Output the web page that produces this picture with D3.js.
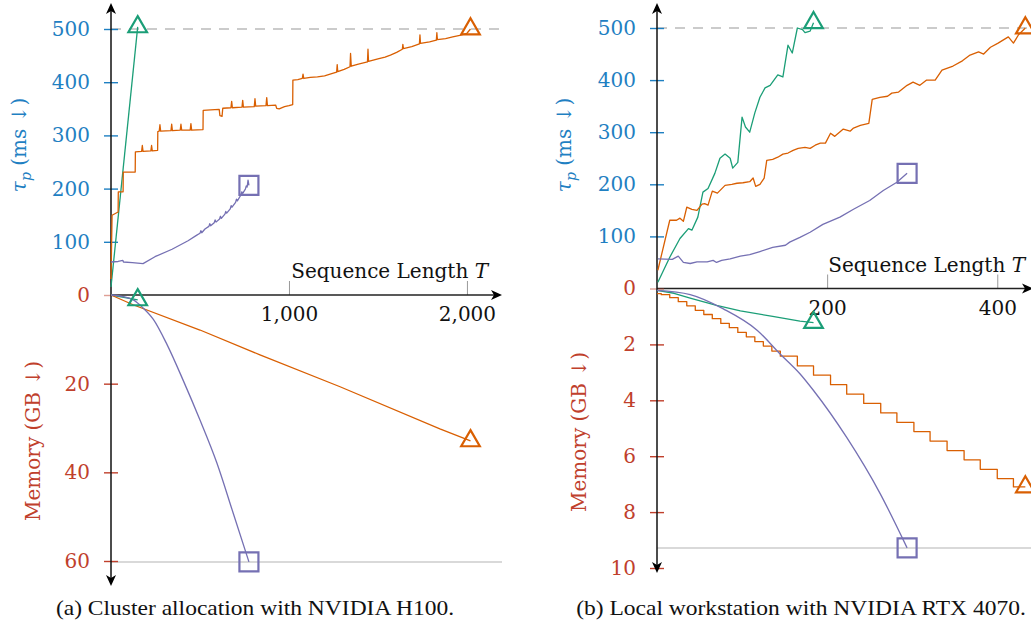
<!DOCTYPE html>
<html lang="en">
<head>
<meta charset="UTF-8">
<script src="https://d3js.org/d3.v7.min.js"></script>
<style>
  body { margin: 0; background: #fff; }
  svg text { font-family: "DejaVu Serif", serif; }
  svg text.caption { font-family: "Liberation Serif", "Times New Roman", serif; font-size: 21px; fill: #111; }
</style>
</head>
<body>
<svg id="chart" width="1031" height="627"></svg>
<script>
// every series is [sequence length T, value]

// (a) cluster, H100 -- tau_p in ms
const h100TauGreen = [[0, 15], [150, 504]];
const h100TauOrange = [
  [0, 30], [6, 150], [40, 156], [41, 194], [68, 194], [69, 231], [136, 231], [137, 269],
  [172, 270], [176, 281], [180, 270], [224, 271], [228, 281], [232, 271], [262, 272], [263, 307],
  [271, 308], [275, 320], [279, 308], [337, 309], [341, 321], [345, 309], [389, 310], [393, 321],
  [397, 310], [445, 310], [449, 322], [453, 310], [517, 311], [518, 347], [560, 348], [608, 349],
  [612, 337], [624, 336], [628, 351], [674, 352], [678, 364], [682, 352], [736, 353], [740, 366],
  [744, 353], [805, 354], [809, 369], [813, 355], [871, 356], [875, 371], [879, 356], [925, 357],
  [931, 351], [945, 350], [975, 354], [1000, 356], [1021, 358], [1022, 404], [1050, 405], [1075, 407],
  [1079, 415], [1083, 407], [1120, 409], [1160, 410], [1200, 412], [1240, 416], [1268, 419], [1271, 433],
  [1274, 420], [1310, 424], [1343, 429], [1346, 454], [1350, 430], [1390, 434], [1441, 438], [1444, 462],
  [1447, 439], [1500, 444], [1540, 447], [1570, 451], [1605, 456], [1637, 462], [1640, 471], [1643, 463],
  [1690, 467], [1733, 472], [1736, 489], [1739, 473], [1790, 476], [1828, 479], [1831, 493], [1834, 480],
  [1880, 482], [1920, 485], [1960, 488], [2000, 492], [2020, 500]
];
const h100TauPurple = [
  [0, 62], [40, 63], [67, 65], [70, 62], [120, 61], [180, 59], [247, 72], [343, 86], [433, 102],
  [480, 112], [500, 116], [505, 121], [510, 117], [528, 124], [550, 129], [555, 134], [560, 130],
  [580, 136], [585, 141], [590, 137], [610, 143], [615, 148], [620, 144], [640, 152], [645, 157],
  [650, 154], [670, 162], [675, 168], [680, 165], [700, 174], [705, 180], [710, 177], [730, 188],
  [735, 194], [740, 191], [755, 199], [760, 205], [765, 203], [770, 216], [775, 206]
];
// (a) memory in GB
const h100MemGreen = [[0, 0], [150, 1.1]];
const h100MemOrange = [[0, 0], [124, 2.2], [500, 7.9], [837, 13.5], [1287, 20.7], [1848, 30.2], [2020, 32.9]];
const h100MemPurple = [
  [0, 0], [60, 0.3], [125, 1.1], [180, 2.9], [238, 5.5], [315, 11.2], [405, 19.2],
  [500, 28.2], [595, 37.9], [685, 49], [775, 60.2]
];

// (b) workstation, RTX 4070 -- tau_p in ms
const rtxTauGreen = [
  [1, 12], [15, 60], [27, 96], [37, 115], [41, 112], [48, 137], [54, 185], [60, 192], [68, 221],
  [74, 250], [80, 258], [86, 250], [89, 231], [95, 242], [100, 329], [104, 310], [109, 300],
  [115, 337], [121, 367], [127, 385], [133, 390], [142, 410], [148, 406], [154, 467], [159, 452],
  [165, 500], [171, 497], [174, 491], [180, 494], [184, 510]
];
const rtxTauOrange = [
  [1, 35], [15, 131], [23, 131], [27, 135], [31, 129], [35, 156], [41, 152], [47, 150], [53, 162],
  [56, 163], [60, 160], [65, 187], [71, 183], [80, 198], [88, 200], [94, 202], [101, 203], [109, 205],
  [113, 212], [116, 196], [121, 200], [126, 212], [129, 246], [136, 248], [142, 252], [148, 258],
  [154, 260], [160, 265], [166, 269], [174, 271], [180, 269], [186, 275], [192, 279], [198, 279],
  [204, 298], [209, 292], [219, 306], [227, 302], [231, 308], [239, 313], [249, 317], [253, 363],
  [262, 367], [271, 369], [276, 375], [284, 377], [294, 390], [301, 396], [309, 390], [317, 400],
  [327, 400], [335, 419], [348, 427], [359, 437], [368, 448], [378, 454], [384, 450], [392, 463],
  [401, 471], [413, 483], [419, 471], [425, 487], [433, 500]
];
const rtxTauPurple = [
  [1, 57], [18, 56], [25, 62], [31, 50], [39, 48], [47, 51], [59, 51], [66, 54], [70, 50], [76, 54],
  [86, 57], [98, 62], [109, 65], [121, 71], [136, 79], [151, 83], [156, 89], [168, 98], [180, 108],
  [195, 123], [215, 137], [231, 152], [250, 169], [266, 188], [282, 204], [294, 221]
];
// (b) memory in GB
const rtxMemGreen = [[0, 0.07], [20, 0.17], [40, 0.35], [70, 0.6], [98, 0.8], [136, 1.0], [168, 1.17], [184, 1.22]];
const rtxMemPurple = [
  [0, 0.07], [39, 0.22], [78, 0.73], [118, 1.5], [145, 2.35], [168, 3.05], [184, 3.65],
  [223, 5.33], [262, 7.32], [294, 9.28]
];
const rtxMemOrange = [
  [0, 0.18], [5, 0.22], [15, 0.33], [25, 0.47], [35, 0.62], [45, 0.78], [55, 0.93], [65, 1.08],
  [75, 1.25], [85, 1.4], [95, 1.57], [105, 1.73], [115, 1.9], [125, 2.06], [135, 2.24], [145, 2.42],
  [165, 2.77], [184, 3.1], [204, 3.44], [223, 3.78], [243, 4.11], [263, 4.45], [282, 4.79],
  [302, 5.12], [321, 5.46], [341, 5.8], [361, 6.13], [380, 6.47], [400, 6.8], [419, 7.1], [433, 7.1]
];

const tauTicks = [100, 200, 300, 400, 500];
const h100MemTicks = [0, 20, 40, 60];
const rtxMemTicks = [0, 2, 4, 6, 8, 10];
const h100XTicks = [1000, 2000];
const rtxXTicks = [200, 400];
const captions = ["(a) Cluster allocation with NVIDIA H100.", "(b) Local workstation with NVIDIA RTX 4070."];

const blue = "#1f80c2", red = "#c0402c";
const green = "#1b9e77", orange = "#d95f02", purple = "#7570b3";

const svg = d3.select("#chart");

function arrow(g, x, y, dir) {
  // stealth-ish arrow head, tip at (x, y)
  const p = {
    up: `M${x},${y} L${x - 5},${y + 11} L${x},${y + 8} L${x + 5},${y + 11} Z`,
    down: `M${x},${y} L${x - 5},${y - 11} L${x},${y - 8} L${x + 5},${y - 11} Z`,
    right: `M${x},${y} L${x - 11},${y - 5} L${x - 8},${y} L${x - 11},${y + 5} Z`
  }[dir];
  g.append("path").attr("d", p).attr("fill", "#000");
}

function drawPanel(p) {
  const g = svg.append("g");
  const x = d3.scaleLinear().domain([0, p.xMax]).range([p.left, p.right]);
  const yTau = d3.scaleLinear().domain([0, 500]).range([p.zeroY, p.y500]);
  const yMem = d3.scaleLinear().domain([0, p.memRef]).range([p.zeroY, p.memRefY]);
  const ax = x(0);

  // 500 ms budget and peak memory guide lines
  g.append("line").attr("x1", ax).attr("x2", p.right)
    .attr("y1", yTau(500)).attr("y2", yTau(500))
    .attr("stroke", "#bbb").attr("stroke-width", 1.3).attr("stroke-dasharray", "10,8");
  const peak = p.memPurple[p.memPurple.length - 1][1];
  g.append("line").attr("x1", ax).attr("x2", p.right)
    .attr("y1", yMem(peak)).attr("y2", yMem(peak))
    .attr("stroke", "#ccc").attr("stroke-width", 1.5);

  // x axis
  const xAxis = g.append("g").attr("transform", `translate(0,${p.zeroY})`)
    .call(d3.axisBottom(x).tickValues(p.xTicks).tickFormat(d3.format(",")).tickSize(0).tickPadding(12));
  xAxis.select(".domain").remove();
  xAxis.selectAll(".tick line").attr("y1", 0).attr("y2", -14).attr("stroke", "#999").attr("stroke-width", 1);
  xAxis.selectAll(".tick text").attr("font-size", 20).attr("font-family", "DejaVu Serif").attr("fill", "#111");
  g.append("line").attr("x1", ax).attr("x2", p.right - 4)
    .attr("y1", p.zeroY).attr("y2", p.zeroY).attr("stroke", "#222").attr("stroke-width", 1.5);
  arrow(g, p.right, p.zeroY, "right");
  g.append("text").attr("x", p.xLabelX).attr("y", p.zeroY - 17).attr("text-anchor", "end")
    .attr("font-size", 20).attr("fill", "#111")
    .text("Sequence Length ")
    .append("tspan").attr("font-style", "italic").text("T");

  // tau axis (up)
  const tauAxis = g.append("g").attr("transform", `translate(${ax},0)`)
    .call(d3.axisLeft(yTau).tickValues(tauTicks).tickSize(0).tickPadding(21));
  tauAxis.select(".domain").remove();
  tauAxis.selectAll(".tick line").attr("x1", -7).attr("x2", 7).attr("stroke", blue).attr("stroke-width", 1.4);
  tauAxis.selectAll(".tick text").attr("font-size", 20).attr("font-family", "DejaVu Serif").attr("fill", blue);

  // memory axis (down)
  const memAxis = g.append("g").attr("transform", `translate(${ax},0)`)
    .call(d3.axisLeft(yMem).tickValues(p.memTicks).tickSize(0).tickPadding(21));
  memAxis.select(".domain").remove();
  memAxis.selectAll(".tick line").attr("x1", -7).attr("x2", 7).attr("stroke", red).attr("stroke-width", 1.4)
    .attr("stroke-opacity", d => d === 0 ? 0.5 : 1);
  memAxis.selectAll(".tick text").attr("font-size", 20).attr("font-family", "DejaVu Serif").attr("fill", red);

  g.append("line").attr("x1", ax).attr("x2", ax).attr("y1", p.topTip + 6).attr("y2", p.bottomTip - 6)
    .attr("stroke", "#111").attr("stroke-width", 1.5);
  arrow(g, ax, p.topTip, "up");
  arrow(g, ax, p.bottomTip, "down");

  // axis titles
  const tauTitle = g.append("text")
    .attr("transform", `translate(${p.tauTitleX},145) rotate(-90)`)
    .attr("text-anchor", "middle").attr("font-size", 20).attr("fill", blue);
  tauTitle.append("tspan").attr("font-style", "italic").text("τ");
  tauTitle.append("tspan").attr("font-style", "italic").attr("font-size", 14).attr("dy", 5).text("p");
  tauTitle.append("tspan").attr("dy", -5).text(" (ms ↓)");
  g.append("text")
    .attr("transform", `translate(${p.memTitleX},${p.memTitleY}) rotate(-90)`)
    .attr("text-anchor", "middle").attr("font-size", 20).attr("fill", red)
    .text("Memory (GB ↓)");

  // series
  const lineTau = d3.line().x(d => x(d[0])).y(d => yTau(d[1]));
  const lineMem = d3.line().x(d => x(d[0])).y(d => yMem(d[1]));
  const series = [
    { data: p.tauGreen, gen: lineTau, y: yTau, color: green, mark: "tri" },
    { data: p.tauOrange, gen: lineTau, y: yTau, color: orange, mark: "tri" },
    { data: p.tauPurple, gen: lineTau, y: yTau, color: purple, mark: "sq" },
    { data: p.memGreen, gen: lineMem, y: yMem, color: green, mark: "tri" },
    { data: p.memOrange, gen: p.memOrangeStep ? d3.line().x(d => x(d[0])).y(d => yMem(d[1])).curve(d3.curveStepAfter) : lineMem, y: yMem, color: orange, mark: "tri" },
    { data: p.memPurple, gen: d3.line().x(d => x(d[0])).y(d => yMem(d[1])).curve(d3.curveMonotoneX), y: yMem, color: purple, mark: "sq" }
  ];
  g.selectAll("path.series").data(series).join("path")
    .attr("class", "series")
    .attr("d", s => s.gen(s.data))
    .attr("fill", "none").attr("stroke", s => s.color).attr("stroke-width", 1.3)
    .attr("stroke-linejoin", "round");

  // end markers
  const tri = d3.symbol().type(d3.symbolTriangle).size(150);
  g.selectAll("path.mark").data(series).join("path")
    .attr("class", "mark")
    .attr("transform", s => {
      const last = s.data[s.data.length - 1];
      return `translate(${x(last[0])},${s.y(last[1])})`;
    })
    .attr("d", s => s.mark === "tri" ? tri() : "M-9.5,-9.5H9.5V9.5H-9.5Z")
    .attr("fill", "none").attr("stroke", s => s.color).attr("stroke-width", 2.2);
}

drawPanel({
  xMax: 2197, left: 111, right: 502, zeroY: 295, y500: 29, memRef: 60, memRefY: 561,
  topTip: 3, bottomTip: 586, xTicks: h100XTicks, memTicks: h100MemTicks, xLabelX: 488,
  tauTitleX: 26, memTitleX: 40, memTitleY: 441,
  tauGreen: h100TauGreen, tauOrange: h100TauOrange, tauPurple: h100TauPurple,
  memGreen: h100MemGreen, memOrange: h100MemOrange, memPurple: h100MemPurple, memOrangeStep: false
});
drawPanel({
  xMax: 442, left: 657, right: 1033, zeroY: 288.5, y500: 28, memRef: 10, memRefY: 568,
  topTip: 3, bottomTip: 573, xTicks: rtxXTicks, memTicks: rtxMemTicks, xLabelX: 1025,
  tauTitleX: 571, memTitleX: 586, memTitleY: 432,
  tauGreen: rtxTauGreen, tauOrange: rtxTauOrange, tauPurple: rtxTauPurple,
  memGreen: rtxMemGreen, memOrange: rtxMemOrange, memPurple: rtxMemPurple, memOrangeStep: true
});

// captions
svg.selectAll("text.caption").data(captions).join("text")
  .attr("class", "caption")
  .attr("transform", (d, i) => `translate(${i === 0 ? 255 : 801},615) scale(1.12,1)`)
  .attr("text-anchor", "middle")
  .text(d => d);
</script>
</body>
</html>
